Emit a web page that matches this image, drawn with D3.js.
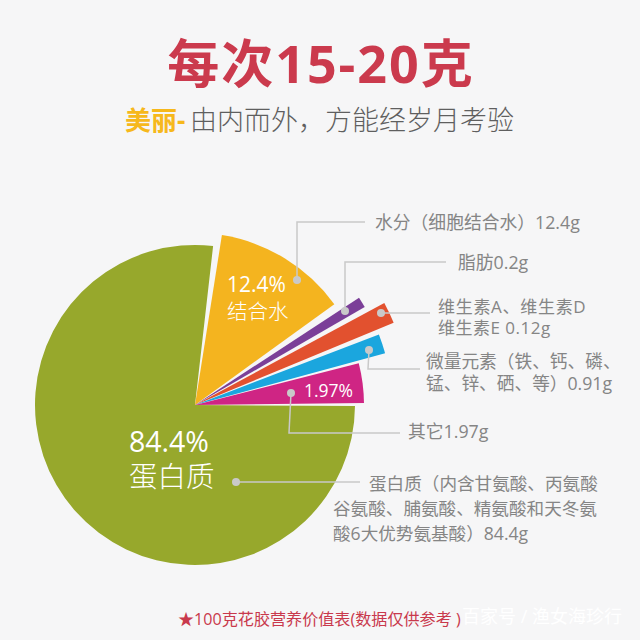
<!DOCTYPE html>
<html>
<head>
<meta charset="utf-8">
<script src="https://cdn.jsdelivr.net/npm/d3@7"></script>
<style>
html, body { margin: 0; padding: 0; background: #f6f6f7; }
svg { display: block; }
text { font-family: "Open Sans", "Noto Sans CJK SC", sans-serif; }
</style>
</head>
<body>
<div id="chart"></div>
<script>
var categories = ["蛋白质", "水分", "脂肪", "维生素", "微量元素", "其它"];
var values = [84.4, 12.4, 0.2, 0.12, 0.91, 1.97];
// the slices in the picture are not proportional to the values, so the
// angles (degrees clockwise from 12 o'clock) and lengths are read off it
var angleFrom = [90.4, 9, 56.8, 61.7, 69, 75.7];
var angleTo = [366.5, 54.1, 60, 67.5, 74.8, 89.3];
var reach = [160, 172, 196, 215, 197, 169];
var colors = ["#97a82c", "#f4b41f", "#7b3f98", "#e2512f", "#1ba6de", "#cf2584"];

var width = 640, height = 640;
var cx = 195, cy = 405;

var svg = d3.select("#chart").append("svg")
    .attr("width", width)
    .attr("height", height);

svg.append("rect")
    .attr("width", width)
    .attr("height", height)
    .attr("fill", "#f6f6f7");

var angle = d3.scaleLinear().domain([0, 360]).range([0, 2 * Math.PI]);

var arc = d3.arc()
    .innerRadius(0)
    .outerRadius(function(d, i) { return reach[i]; })
    .startAngle(function(d, i) { return angle(angleFrom[i]); })
    .endAngle(function(d, i) { return angle(angleTo[i]); });

var pie = svg.append("g")
    .attr("transform", "translate(" + cx + "," + cy + ")");

pie.selectAll("path")
    .data(values)
    .enter().append("path")
    .attr("d", arc)
    .attr("fill", function(d, i) { return colors[i]; })
    .append("title")
    .text(function(d, i) { return categories[i] + " " + d; });

// leader lines, one per slice
var leaders = [
    [[236, 482], [360, 482]],
    [[297, 280], [297, 222], [365, 222]],
    [[345, 311], [345, 262], [446, 262]],
    [[381, 313], [389, 313], [430, 313]],
    [[369, 350], [368, 369], [420, 369]],
    [[291, 393], [289, 433], [400, 433]]
];

var line = d3.line();

svg.selectAll(".leader")
    .data(leaders)
    .enter().append("path")
    .attr("class", "leader")
    .attr("d", line)
    .attr("fill", "none")
    .attr("stroke", "#c9c9c9")
    .attr("stroke-width", 1.5);

svg.selectAll(".dot")
    .data(leaders)
    .enter().append("circle")
    .attr("class", "dot")
    .attr("cx", function(d) { return d[0][0]; })
    .attr("cy", function(d) { return d[0][1]; })
    .attr("r", 4)
    .attr("fill", "#c9c9c9");

function label(x, y, str, size, color, weight) {
    return svg.append("text")
        .attr("x", x)
        .attr("y", y)
        .attr("font-size", size)
        .attr("font-weight", weight || 400)
        .attr("fill", color)
        .text(str);
}

// title
label(321, 83, "每次15-20克", 52, "#cb3a4d", 700)
    .attr("text-anchor", "middle")
    .attr("letter-spacing", 2);
label(125, 130, "美丽-", 26, "#f6b81c", 700);
label(190, 130, "由内而外，方能经岁月考验", 27, "#5f5f5f", 300);

// text on the slices
label(227, 292, "12.4%", 21, "#ffffff", 400);
label(227, 319, "结合水", 20.5, "#ffffff", 300);
label(304, 397, "1.97%", 17.5, "#ffffff", 400);
label(129, 452, "84.4%", 28.5, "#ffffff", 400);
label(129, 487, "蛋白质", 28.5, "#ffffff", 300);

// side labels
var grey = "#858585";
label(375, 229, "水分（细胞结合水）12.4g", 17.8, grey, 400);
label(458, 269, "脂肪0.2g", 17.8, grey, 400);
label(438, 313, "维生素A、维生素D", 17, grey, 400).attr("letter-spacing", 0.7);
label(438, 334, "维生素E 0.12g", 17, grey, 400).attr("letter-spacing", 0.5);
label(426, 368, "微量元素（铁、钙、磷、", 17.7, grey, 400);
label(426, 390, "锰、锌、硒、等）0.91g", 17.7, grey, 400);
label(408, 438, "其它1.97g", 17.8, grey, 400);
label(369, 490, "蛋白质（内含甘氨酸、丙氨酸", 17.6, grey, 400);
label(333, 515, "谷氨酸、脯氨酸、精氨酸和天冬氨", 17.6, grey, 400);
label(333, 540, "酸6大优势氨基酸）84.4g", 17.6, grey, 400);

// footer
label(178, 625, "★100克花胶营养价值表(数据仅供参考 )", 16.1, "#c9394c", 400);
label(462, 623, "百家号 / 渔女海珍行", 18, "#ffffff", 400);
</script>
</body>
</html>
